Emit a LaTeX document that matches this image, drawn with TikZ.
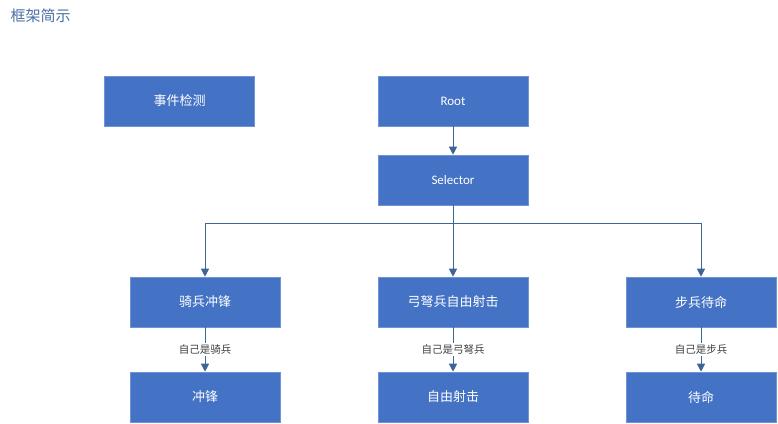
\documentclass[tikz,border=0pt]{standalone}
\usepackage{fontspec}
\setmainfont{Carlito}
\newfontfamily\cjk{Noto Sans CJK SC}
\usetikzlibrary{arrows.meta}
\definecolor{boxblue}{HTML}{4472C4}
\definecolor{boxedge}{HTML}{6F93D3}
\definecolor{linec}{HTML}{3F6496}
\definecolor{titlec}{HTML}{4A6FA5}
\definecolor{labelc}{HTML}{404040}
\tikzset{
  blk/.style={draw=boxedge, line width=0.6pt, fill=boxblue, minimum width=150pt, minimum height=50pt, inner sep=0pt, text=white, font=\fontsize{13pt}{15pt}\selectfont},
  arr/.style={draw=linec, line width=1pt, -{Triangle[width=8pt,length=8pt]}},
  ln/.style={draw=linec, line width=1pt},
  lbl/.style={fill=white, text=labelc, inner sep=1.5pt, font=\cjk\fontsize{10.5pt}{12pt}\selectfont}
}
\begin{document}
\begin{tikzpicture}[x=1pt,y=-1pt]
\useasboundingbox (0,0) rectangle (778,423);
\fill[white] (0,0) rectangle (778,423);
\node[anchor=west, text=titlec, font=\cjk\fontsize{15pt}{17pt}\selectfont] (title) at (7,16) {框架简示};
\node[blk, font=\cjk\fontsize{13pt}{15pt}\selectfont] (det) at (179.5,101) {事件检测};
\node[blk] (root) at (453,101) {Root};
\node[blk] (sel) at (453,180) {Selector};
\node[blk, font=\cjk\fontsize{13pt}{15pt}\selectfont] (a) at (205,302) {骑兵冲锋};
\node[blk, font=\cjk\fontsize{13pt}{15pt}\selectfont] (b) at (453,302) {弓弩兵自由射击};
\node[blk, font=\cjk\fontsize{13pt}{15pt}\selectfont] (c) at (701,302) {步兵待命};
\node[blk, font=\cjk\fontsize{13pt}{15pt}\selectfont] (a2) at (205,397) {冲锋};
\node[blk, font=\cjk\fontsize{13pt}{15pt}\selectfont] (b2) at (453,397) {自由射击};
\node[blk, font=\cjk\fontsize{13pt}{15pt}\selectfont] (c2) at (701,397) {待命};
\coordinate (j) at (453,223);
\draw[arr] (root) -- (sel);
\draw[arr] (sel) -- (b);
\draw[ln] (j) -- (a.north |- j);
\draw[ln] (j) -- (c.north |- j);
\draw[arr] (a.north |- j) -- (a);
\draw[arr] (c.north |- j) -- (c);
\draw[arr] (a) -- node[lbl] {自己是骑兵} (a2);
\draw[arr] (b) -- node[lbl] {自己是弓弩兵} (b2);
\draw[arr] (c) -- node[lbl] {自己是步兵} (c2);
\end{tikzpicture}
\end{document}
